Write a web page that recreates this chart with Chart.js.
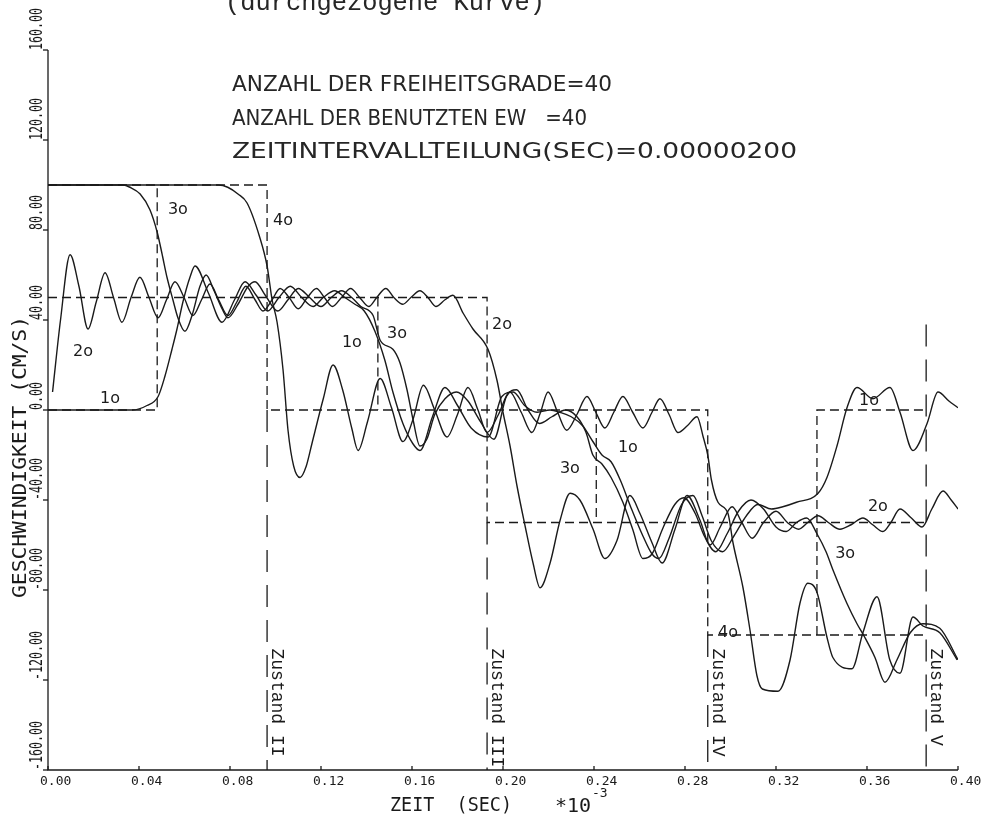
<!DOCTYPE html>
<html>
<head>
<meta charset="utf-8">
<script src="https://cdn.jsdelivr.net/npm/chart.js@4.4.1/dist/chart.umd.min.js"></script>
<style>
  html, body { margin: 0; padding: 0; background: #fff; }
  #plot { display: block; }
</style>
</head>
<body>
<canvas id="plot" width="990" height="822"></canvas>
<script>
// ZEIT in 1e-3 s, GESCHWINDIGKEIT in cm/s
const xTicks = [0, 0.04, 0.08, 0.12, 0.16, 0.20, 0.24, 0.28, 0.32, 0.36, 0.40];
const yTicks = [160, 120, 80, 40, 0, -40, -80, -120, -160];

// solid curves (Freiheitsgrad 1..4)
const curve1 = [[0,0],[0.037,0],[0.0435,2],[0.0484,6],[0.0514,15],[0.0545,27],[0.0567,36],[0.0593,48],[0.0624,59],[0.0646,64],[0.0705,52],[0.0765,39],[0.082,49],[0.0866,57],[0.0915,51],[0.0965,44],[0.1015,50],[0.1065,55],[0.1115,50],[0.1165,46],[0.121,50],[0.126,53],[0.1305,50],[0.1349,47],[0.139,44],[0.1437,35],[0.1481,22],[0.1516,8],[0.156,-6],[0.1604,-15],[0.1635,-18],[0.169,-3],[0.1745,10],[0.18,2],[0.186,-8],[0.1935,-12],[0.1995,6],[0.2045,8],[0.2095,2],[0.215,-1],[0.2207,0],[0.225,-1],[0.23,-3],[0.235,-7],[0.2395,-14],[0.2435,-20],[0.2475,-23],[0.2515,-31],[0.2565,-44],[0.2615,-56],[0.2655,-64],[0.2685,-66],[0.273,-57],[0.2785,-42],[0.2835,-38],[0.2875,-47],[0.2915,-58],[0.2965,-63],[0.3015,-56],[0.307,-47],[0.312,-42],[0.318,-44],[0.323,-43],[0.329,-41],[0.3385,-37],[0.3424,-30],[0.3468,-16],[0.3512,1],[0.3556,10],[0.3626,5],[0.3701,10],[0.3745,-1],[0.3802,-18],[0.3864,-6],[0.3912,8],[0.396,4],[0.4,1]];
const curve2 = [[0.002,8],[0.0055,40],[0.0097,69],[0.0136,55],[0.0176,36],[0.0212,48],[0.0251,61],[0.0288,50],[0.0325,39],[0.0365,50],[0.0404,59],[0.0444,50],[0.0484,41],[0.0521,49],[0.0558,57],[0.0598,50],[0.0637,42],[0.0675,49],[0.0712,56],[0.075,49],[0.0791,42],[0.083,48],[0.087,55],[0.091,49],[0.0945,44],[0.0985,49],[0.102,54],[0.106,50],[0.11,45],[0.114,50],[0.118,54],[0.1215,50],[0.125,46],[0.129,50],[0.133,54],[0.137,50],[0.141,46],[0.1445,50],[0.1485,54],[0.152,50],[0.156,47],[0.1595,50],[0.1635,53],[0.167,50],[0.1705,46],[0.1745,49],[0.178,51],[0.1825,43],[0.1868,36],[0.1934,27],[0.1974,13],[0.2,-1],[0.2031,-16],[0.2062,-34],[0.2098,-52],[0.2132,-68],[0.2163,-79],[0.2207,-68],[0.2251,-49],[0.2295,-37],[0.2338,-40],[0.2396,-53],[0.2448,-66],[0.2501,-58],[0.2558,-38],[0.2602,-46],[0.2655,-59],[0.2699,-68],[0.2756,-53],[0.2809,-38],[0.2866,-49],[0.291,-60],[0.2955,-52],[0.3007,-43],[0.305,-50],[0.3095,-57],[0.3145,-50],[0.32,-45],[0.325,-50],[0.33,-53],[0.334,-50],[0.3385,-47],[0.343,-50],[0.3481,-53],[0.353,-51],[0.3582,-48],[0.3625,-51],[0.367,-54],[0.3705,-50],[0.3745,-44],[0.3795,-48],[0.3842,-52],[0.3885,-44],[0.3934,-36],[0.397,-40],[0.4,-44]];
const curve3 = [[0,100],[0.033,100],[0.036,99],[0.0405,96],[0.0448,89],[0.048,79],[0.05,70],[0.0523,59],[0.0549,49],[0.0571,41],[0.0602,35],[0.0633,42],[0.0668,55],[0.0695,60],[0.073,53],[0.0765,45],[0.0791,41],[0.0835,47],[0.088,55],[0.091,57],[0.0955,51],[0.101,44],[0.1055,49],[0.11,54],[0.115,50],[0.12,46],[0.1245,50],[0.129,53],[0.1335,50],[0.1375,46],[0.1429,42],[0.146,31],[0.1516,27],[0.1547,21],[0.1578,9],[0.1604,-4],[0.1635,-16],[0.1665,-13],[0.17,-2],[0.1745,5],[0.1795,8],[0.1846,4],[0.19,-5],[0.196,-13],[0.2015,6],[0.206,9],[0.211,0],[0.216,-6],[0.2215,-3],[0.2275,0],[0.2325,-3],[0.2365,-10],[0.2395,-20],[0.2435,-24],[0.2475,-30],[0.2527,-41],[0.257,-53],[0.2615,-66],[0.2655,-64],[0.2705,-52],[0.2755,-42],[0.2795,-39],[0.2845,-46],[0.2885,-56],[0.2935,-63],[0.2985,-55],[0.3035,-45],[0.309,-40],[0.3145,-44],[0.32,-52],[0.3245,-54],[0.329,-50],[0.3335,-48],[0.338,-55],[0.342,-63],[0.345,-71],[0.3512,-86],[0.3556,-95],[0.359,-101],[0.3635,-110],[0.3679,-121],[0.3732,-111],[0.379,-99],[0.3846,-95],[0.392,-97],[0.4,-111]];
const curve4 = [[0,100],[0.075,100],[0.079,99],[0.0835,96],[0.0875,92],[0.093,77],[0.0963,64],[0.0985,49],[0.1007,39],[0.1033,18],[0.1055,-9],[0.108,-25],[0.1108,-30],[0.1135,-25],[0.116,-15],[0.121,5],[0.1253,20],[0.1295,9],[0.1335,-8],[0.1363,-18],[0.1405,-5],[0.146,14],[0.151,1],[0.156,-14],[0.1605,-4],[0.165,11],[0.17,0],[0.1754,-12],[0.18,-2],[0.1846,10],[0.189,0],[0.193,-10],[0.198,-2],[0.203,8],[0.208,-1],[0.2127,-10],[0.2165,-1],[0.2198,8],[0.224,-1],[0.228,-9],[0.2325,-2],[0.2369,6],[0.2408,-1],[0.2448,-8],[0.2487,-1],[0.2527,6],[0.257,-1],[0.2615,-8],[0.2655,-1],[0.269,5],[0.273,-2],[0.2769,-10],[0.281,-7],[0.2853,-3],[0.288,-12],[0.29,-20],[0.2916,-31],[0.2945,-41],[0.2989,-46],[0.3011,-59],[0.3055,-79],[0.3086,-98],[0.3116,-118],[0.314,-124],[0.3209,-125],[0.3262,-111],[0.3305,-86],[0.334,-77],[0.338,-81],[0.3424,-101],[0.345,-110],[0.3534,-115],[0.3582,-99],[0.3644,-83],[0.37,-111],[0.3745,-117],[0.3802,-92],[0.3846,-96],[0.392,-99],[0.3996,-111]];

// dashed reference steps (split so the dash patterns never lie on top of each other)
const stepA = [[0,100],[0.0963,100],[0.0963,0],[0.29,0],[0.29,-100],[0.386,-100]];
const stepB = [[0,50],[0.193,50],[0.193,-50],[0.386,-50]];
const stepC = [[0,0],[0.048,0],[0.048,100]];
const stepD = [[0.145,50],[0.145,0]];
const stepE = [[0.241,0],[0.241,-50]];
const stepF = [[0.338,-100],[0.338,0],[0.386,0]];

// Zustand markers: time, upper end of the line, name
const stateTimes = [0.0963, 0.193, 0.29, 0.386];
const stateTops = [0, -50, -100, 38];
const stateNames = ['Zustand II', 'Zustand III', 'Zustand IV', 'Zustand V'];

// curve tags: text, t, v
const curveTags = [
  ['1o', 0.0229, 5], ['2o', 0.011, 26], ['3o', 0.0527, 89], ['4o', 0.0989, 84],
  ['1o', 0.1292, 30], ['3o', 0.149, 34], ['2o', 0.1952, 38],
  ['3o', 0.225, -26], ['1o', 0.2505, -17],
  ['1o', 0.3565, 4], ['2o', 0.3604, -43], ['3o', 0.346, -64], ['4o', 0.2945, -99]
];

const headerLines = ['ANZAHL DER FREIHEITSGRADE=40', 'ANZAHL DER BENUTZTEN EW   =40', 'ZEITINTERVALLTEILUNG(SEC)=0.00000200'];

const ink = '#1a1a1a';
const toXY = pts => pts.map(([x, y]) => ({ x, y }));

const solid = (pts) => ({
  data: toXY(pts), borderColor: ink, borderWidth: 1.4, pointRadius: 0,
  cubicInterpolationMode: 'monotone', fill: false
});
const dashed = (pts, dash) => ({
  data: toXY(pts), borderColor: ink, borderWidth: 1.3, pointRadius: 0,
  borderDash: dash, tension: 0, fill: false
});

const stateLines = stateTimes.map((t, i) => dashed([[t, stateTops[i]], [t, -160]], [22, 13]));

// stretch a text horizontally so it covers a given width, like the plotter lettering
function fitText(ctx, str, left, base, width) {
  const w = ctx.measureText(str).width;
  ctx.save();
  ctx.translate(left, base);
  ctx.scale(width / w, 1);
  ctx.fillText(str, 0, 0);
  ctx.restore();
}

const plotterText = {
  id: 'plotterText',
  afterDraw(chart) {
    const { ctx, chartArea: a } = chart;
    const x = chart.scales.x, y = chart.scales.y;
    ctx.save();
    ctx.strokeStyle = ink;
    ctx.fillStyle = ink;
    ctx.lineWidth = 1.3;
    ctx.textAlign = 'left';
    ctx.textBaseline = 'alphabetic';

    // axes
    ctx.beginPath();
    ctx.moveTo(a.left, a.top);
    ctx.lineTo(a.left, a.bottom);
    ctx.lineTo(a.right, a.bottom);
    ctx.stroke();

    // y ticks and rotated labels, reading upwards from the tick
    ctx.font = '17px "DejaVu Sans Mono"';
    yTicks.forEach(v => {
      const py = y.getPixelForValue(v);
      ctx.beginPath();
      ctx.moveTo(a.left - 5, py);
      ctx.lineTo(a.left, py);
      ctx.stroke();
      const s = v.toFixed(2);
      ctx.save();
      ctx.translate(a.left - 6, py);
      ctx.rotate(-Math.PI / 2);
      fitText(ctx, s, 0, 0, s.length * 7);
      ctx.restore();
    });

    // x ticks and labels
    ctx.font = '13px "DejaVu Sans Mono"';
    xTicks.forEach(v => {
      const px = x.getPixelForValue(v);
      ctx.beginPath();
      ctx.moveTo(px, a.bottom - 4);
      ctx.lineTo(px, a.bottom);
      ctx.stroke();
      ctx.fillText(v.toFixed(2), px - 8, a.bottom + 15);
    });

    // axis titles
    ctx.font = '19px "DejaVu Sans Mono"';
    ctx.save();
    ctx.translate(26, 598);
    ctx.rotate(-Math.PI / 2);
    fitText(ctx, 'GESCHWINDIGKEIT (CM/S)', 0, 0, 282);
    ctx.restore();
    ctx.font = '20px "DejaVu Sans Mono"';
    fitText(ctx, 'ZEIT  (SEC)', 390, a.bottom + 41, 122);
    ctx.fillText('*10', 555, a.bottom + 42);
    ctx.font = '13px "DejaVu Sans Mono"';
    ctx.fillText('-3', 592, a.bottom + 27);

    // header block
    ctx.fillStyle = '#262626';
    ctx.font = '22px "DejaVu Sans"';
    const widths = [380, 355, 565];
    headerLines.forEach((s, i) => fitText(ctx, s, 232, 91 + i * 33.5, widths[i]));

    ctx.font = '26px "Liberation Mono"';
    fitText(ctx, '(durchgezogene Kurve)', 225, 10, 320);

    // Zustand names, written downwards beside each line
    ctx.fillStyle = ink;
    ctx.font = '18px "Liberation Mono"';
    stateTimes.forEach((t, i) => {
      ctx.save();
      ctx.translate(x.getPixelForValue(t) + 5, y.getPixelForValue(-106));
      ctx.rotate(Math.PI / 2);
      ctx.fillText(stateNames[i], 0, 0);
      ctx.restore();
    });

    // curve tags
    ctx.font = '16px "DejaVu Sans"';
    ctx.textBaseline = 'middle';
    curveTags.forEach(([s, t, v]) => {
      ctx.fillText(s, x.getPixelForValue(t), y.getPixelForValue(v));
    });
    ctx.restore();
  }
};

new Chart(document.getElementById('plot'), {
  type: 'line',
  data: {
    datasets: [
      solid(curve1), solid(curve2), solid(curve3), solid(curve4),
      dashed(stepA, [9, 5]), dashed(stepB, [9, 5]), dashed(stepC, [9, 5]),
      dashed(stepD, [9, 5]), dashed(stepE, [9, 5]), dashed(stepF, [9, 5]),
      ...stateLines
    ]
  },
  options: {
    responsive: false,
    animation: false,
    devicePixelRatio: 1,
    layout: { padding: { left: 48, top: 50, right: 32, bottom: 52 } },
    plugins: { legend: { display: false }, tooltip: { enabled: false } },
    scales: {
      x: { type: 'linear', min: 0, max: 0.4, display: false },
      y: { type: 'linear', min: -160, max: 160, display: false }
    }
  },
  plugins: [plotterText]
});
</script>
</body>
</html>
